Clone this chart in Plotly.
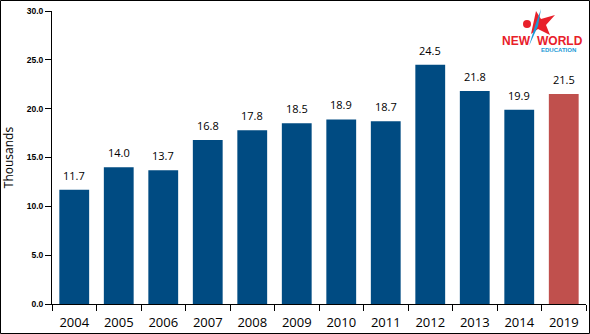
import plotly.graph_objects as go

years = ["2004", "2005", "2006", "2007", "2008", "2009", "2010", "2011", "2012", "2013", "2014", "2019"]
values = [11.7, 14.0, 13.7, 16.8, 17.8, 18.5, 18.9, 18.7, 24.5, 21.8, 19.9, 21.5]
yticks = [0, 5, 10, 15, 20, 25, 30]

blue = "#004b82"
red = "#c0504d"
colors = [blue] * 11 + [red]

W, H = 590, 334
ml, mr, mt, mb = 52, 4, 11, 30
pw, ph = W - ml - mr, H - mt - mb


def px(x):
    return (x - ml) / pw


def py(y):
    return (H - mb - y) / ph


fig = go.Figure(go.Bar(
    x=years, y=values, marker_color=colors, marker_line_width=0,
    width=0.67, hoverinfo="x+y",
))

annotations = [
    dict(x=i, y=v, xref="x", yref="y", text=f"{v:.1f}", showarrow=False,
         xanchor="center", yanchor="bottom", yshift=5,
         font=dict(family="Open Sans", size=11, color="#000"))
    for i, v in enumerate(values)
]
annotations += [
    dict(xref="paper", yref="paper", x=px(516), y=py(41), text="<b>NEW</b>",
         showarrow=False, xanchor="center", yanchor="middle",
         font=dict(family="Liberation Sans", size=12, color="#e8202a")),
    dict(xref="paper", yref="paper", x=px(560), y=py(41), text="<b>WORLD</b>",
         showarrow=False, xanchor="center", yanchor="middle",
         font=dict(family="Liberation Sans", size=12, color="#e8202a")),
    dict(xref="paper", yref="paper", x=px(558), y=py(50), text="<b>EDUCATION</b>",
         showarrow=False, xanchor="center", yanchor="middle",
         font=dict(family="Liberation Sans", size=6, color="#1a9ad6")),
]

fig.update_layout(
    width=W, height=H,
    margin=dict(l=ml, r=mr, t=mt, b=mb),
    paper_bgcolor="white", plot_bgcolor="white",
    showlegend=False,
    xaxis=dict(type="category", range=[-0.5, 11.5], showline=True, linecolor="black", linewidth=1,
               ticks="outside", tickson="boundaries", ticklen=6, tickcolor="black",
               ticklabelstandoff=6,
               tickfont=dict(family="Open Sans", size=13, color="#000"), showgrid=False),
    yaxis=dict(range=[0, 30], tickvals=yticks, ticktext=[f"{v:.1f}" for v in yticks],
               showline=True, linecolor="black", linewidth=1, ticks="outside", ticklen=6,
               tickcolor="black", showgrid=False, zeroline=False,
               tickfont=dict(family="Liberation Sans", size=8.5, color="#000", weight="bold"),
               title=dict(text="Thousands", font=dict(family="Open Sans", size=12, color="#000"), standoff=12)),
    shapes=[
        dict(type="rect", xref="paper", yref="paper",
             x0=(-ml + 0.5) / pw, x1=(pw + mr - 0.5) / pw,
             y0=(-mb + 0.5) / ph, y1=(ph + mt - 0.5) / ph,
             line=dict(color="black", width=1), fillcolor="rgba(0,0,0,0)", layer="above"),
        # logo star
        dict(type="path", xref="paper", yref="paper", layer="above",
             path=("M {0},{1} L {2},{3} L {4},{5} L {6},{7} L {8},{9} L {10},{11} L {12},{13} Z").format(
                 px(536), py(11), px(541), py(19), px(555), py(15), px(546), py(25),
                 px(550), py(35), px(538), py(29), px(531), py(34)),
             fillcolor="#e8202a", line=dict(width=0)),
        # logo figure (blue swoosh)
        dict(type="path", xref="paper", yref="paper", layer="above",
             path="M {0},{1} L {2},{3} L {4},{5} L {6},{7} Z".format(
                 px(541), py(9), px(535), py(26), px(529), py(46), px(538), py(26)),
             fillcolor="#1a9ad6", line=dict(width=0)),
        dict(type="circle", xref="paper", yref="paper", layer="above",
             x0=px(523), x1=px(531), y0=py(28), y1=py(20),
             fillcolor="#e8202a", line=dict(width=0)),
    ],
    annotations=annotations,
)

fig.write_html("out.html")
